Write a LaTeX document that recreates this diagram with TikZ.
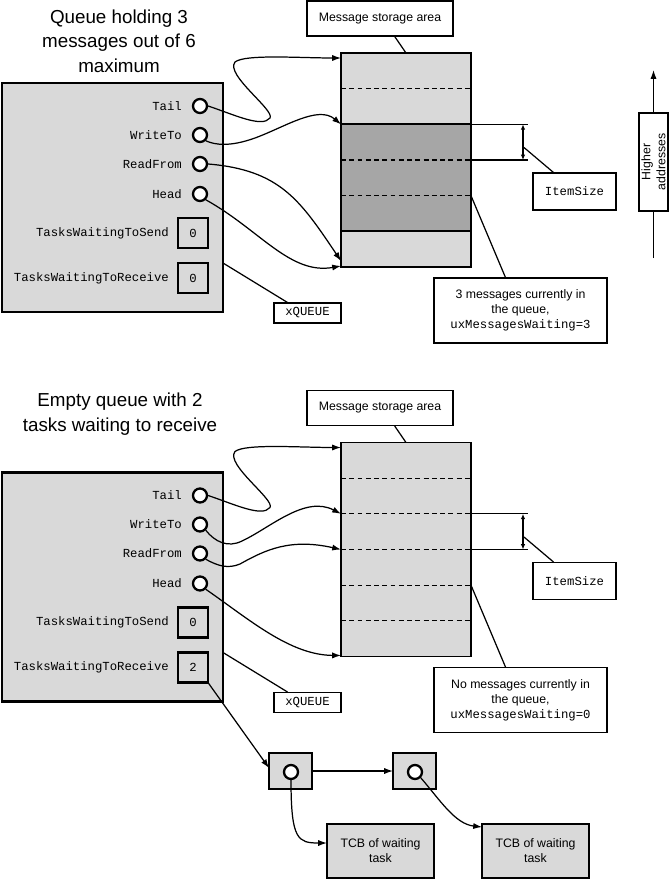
\documentclass[tikz,border=0pt]{standalone}
\usepackage{fontspec}
\setmainfont{Liberation Sans}
\setmonofont{Liberation Mono}
\usetikzlibrary{positioning,calc,arrows.meta}
\definecolor{QueueGray}{RGB}{217,217,217}
\definecolor{ItemGray}{RGB}{166,166,166}
\newcommand{\pxl}{0.02cm}
\newcommand{\notefont}{\fontsize{7}{8.5}\selectfont}
\newcommand{\titlefont}{\fontsize{10.7}{13.9}\selectfont}
\tikzset{>={Latex[length=5pt,width=3.5pt]}}
\tikzset{boxdim/.style 2 args={minimum width=#1*\pxl,minimum height=#2*\pxl}}
\tikzset{queuebox/.style={draw,line width=1.3pt,fill=QueueGray,inner sep=0pt,outer sep=0pt}}
\tikzset{ptr/.style={circle,draw,line width=1.3pt,fill=white,minimum size=14*\pxl,inner sep=0pt}}
\tikzset{countbox/.style={queuebox,boxdim={30}{30},font=\ttfamily\notefont}}
\tikzset{fieldlabel/.style={font=\ttfamily\notefont,inner sep=0pt}}
\tikzset{notebox/.style={draw,fill=white,line width=0.6pt,inner sep=0pt,align=center,font=\notefont}}
\tikzset{myedges/.style={line width=0.7pt}}
\tikzset{rowline/.style={line width=0.7pt,dash pattern=on 2.8pt off 1.9pt}}

\begin{document}
\begin{tikzpicture}[x=\pxl,y=-\pxl]
\useasboundingbox (0,0) rectangle (669,879);

% titles
\node[align=center,font=\titlefont] (titleA) at (119,41) {Queue holding 3\\messages out of 6\\maximum};
\node[align=center,font=\titlefont] (titleB) at (120,414) {Empty queue with 2\\tasks waiting to receive};

% the two queues
\foreach \p/\dy/\cnt/\first/\wait in {A/0/0/3/3, B/389.5/2/No/0} {
\begin{scope}[shift={(0,\dy)}]
    \node[queuebox,boxdim={221}{229}] (q\p) at (112.5,197.5) {};
    \foreach \nm/\txt/\y in {tail/Tail/106, write/WriteTo/135, read/ReadFrom/164, head/Head/194} {
        \node[ptr] (\nm\p) at (200,\y) {};
        \node[fieldlabel,left=5.5pt of \nm\p] (\nm lbl\p) {\txt};
    }
    \node[countbox] (snd\p) at (193,233) {0};
    \node[countbox] (rcv\p) at (193,278) {\cnt};
    \node[fieldlabel,left=5pt of snd\p] (sndlbl\p) {TasksWaitingToSend};
    \node[fieldlabel,left=5pt of rcv\p] (rcvlbl\p) {TasksWaitingToReceive};

    % storage area
    \node[queuebox,boxdim={130}{214},line width=1.1pt] (st\p) at (406,160) {};
    \node[notebox,boxdim={146}{35}] (msa\p) at (380,18.5) {Message storage area};
    \draw[myedges] ($(msa\p.south)!0.2!(msa\p.south east)$) -- (st\p.north);

    % item size
    \draw[myedges] ($(st\p.north east)+(0,2*35.67)$) -- +(57,0);
    \draw[myedges] ($(st\p.north east)+(0,3*35.67)$) -- +(57,0);
    \draw[myedges,<->,>={Latex[length=3pt,width=2.5pt]}] ($(st\p.north east)+(52,2*35.67)$) -- ($(st\p.north east)+(52,3*35.67)$);
    \node[notebox,boxdim={83}{37},font=\ttfamily\notefont] (isz\p) at (574.5,191.5) {ItemSize};
    \draw[myedges] ($(isz\p.north west)!0.25!(isz\p.north east)$) -- ($(st\p.north east)+(53,2.65*35.67)$);

    \node[notebox,boxdim={67}{20},font=\ttfamily\notefont] (xq\p) at (307.5,313) {xQUEUE};
    \draw[myedges] ($(q\p.north east)+(0,180)$) -- ($(xq\p.north west)+(14,0)$);

    \node[notebox,boxdim={173}{65}] (msg\p) at (520.5,310.5) {\first{} messages currently in\\the queue,\\\texttt{uxMessagesWaiting=\wait}};
    \draw[myedges] ($(st\p.north east)+(0,4*35.67)$) -- ($(msg\p.north west)+(72,0)$);

    \draw[myedges,->] (tail\p.east) .. controls (235,115) and (262,128) .. (270,118)
        .. controls (275,110) and (225,75) .. (235,62)
        .. controls (245,54) and (300,58) .. ($(st\p.north west)+(0,5)$);
\end{scope}
}

% three stored messages
\draw[line width=1.1pt,fill=ItemGray] ($(stA.north west)+(0,2*35.67)$) rectangle ($(stA.north east)+(0,5*35.67)$);
\foreach \k in {1,3,4}
    \draw[rowline] ($(stA.north west)+(0,\k*35.67)$) -- ($(stA.north east)+(0,\k*35.67)$);
\foreach \k in {1,...,5}
    \draw[rowline] ($(stB.north west)+(0,\k*35.67)$) -- ($(stB.north east)+(0,\k*35.67)$);

% pointers into the storage area
\draw[myedges,->] (writeA.south east) .. controls (215,145) and (230,147) .. (255,138)
    .. controls (285,127) and (318,105) .. ($(stA.north west)+(0,2*35.67)$);
\draw[myedges,->] (readA.east) .. controls (280,170) and (300,200) .. ($(stA.south west)+(0,-6)$);
\draw[myedges,->] (headA.south east) .. controls (260,230) and (290,275) .. ($(stA.south west)+(0,-1)$);

\draw[myedges,->] (writeB.south east) .. controls (215,542) and (228,548) .. (242,541)
    .. controls (270,528) and (305,495) .. ($(stB.north west)+(0,2*35.67)$);
\draw[myedges,->] (readB.south east) .. controls (218,566) and (228,569) .. (240,564)
    .. controls (265,550) and (290,538) .. ($(stB.north west)+(0,3*35.67)$);
\draw[myedges,->] (headB.south east) .. controls (250,620) and (290,655) .. ($(stB.south west)+(0,-1)$);

% waiting tasks
\node[queuebox,boxdim={43}{36}] (lst1) at (290.5,771) {};
\node[ptr] (lc1) at (291,772) {};
\node[queuebox,boxdim={43}{36}] (lst2) at (414.5,771) {};
\node[ptr] (lc2) at (415,772) {};
\node[queuebox,boxdim={107}{54},align=center,font=\notefont] (tcb1) at (380.5,851) {TCB of waiting\\task};
\node[queuebox,boxdim={107}{54},align=center,font=\notefont] (tcb2) at (535.5,851) {TCB of waiting\\task};
\draw[myedges,->] (rcvB.south east) -- ($(lst1.west)+(0,-3)$);
\draw[myedges,->] (lst1.east) -- (lst2.west);
\draw[myedges,->] (lc1.south) .. controls (291,840) and (298,843) .. ($(tcb1.west)+(0,-8)$);
\draw[myedges,->] (lc2.south east) .. controls (440,800) and (455,824) .. ($(tcb2.north west)+(0,3)$);

% address direction
\node[notebox,rotate=90,boxdim={98}{29}] (hiAddr) at (653.5,162) {Higher\\addresses};
\coordinate (hiTop) at (653.5,70);
\coordinate (hiBot) at (653.5,258);
\draw[myedges] (hiBot) -- (hiAddr.west);
\draw[myedges,->] (hiAddr.east) -- (hiTop);
\end{tikzpicture}
\end{document}
